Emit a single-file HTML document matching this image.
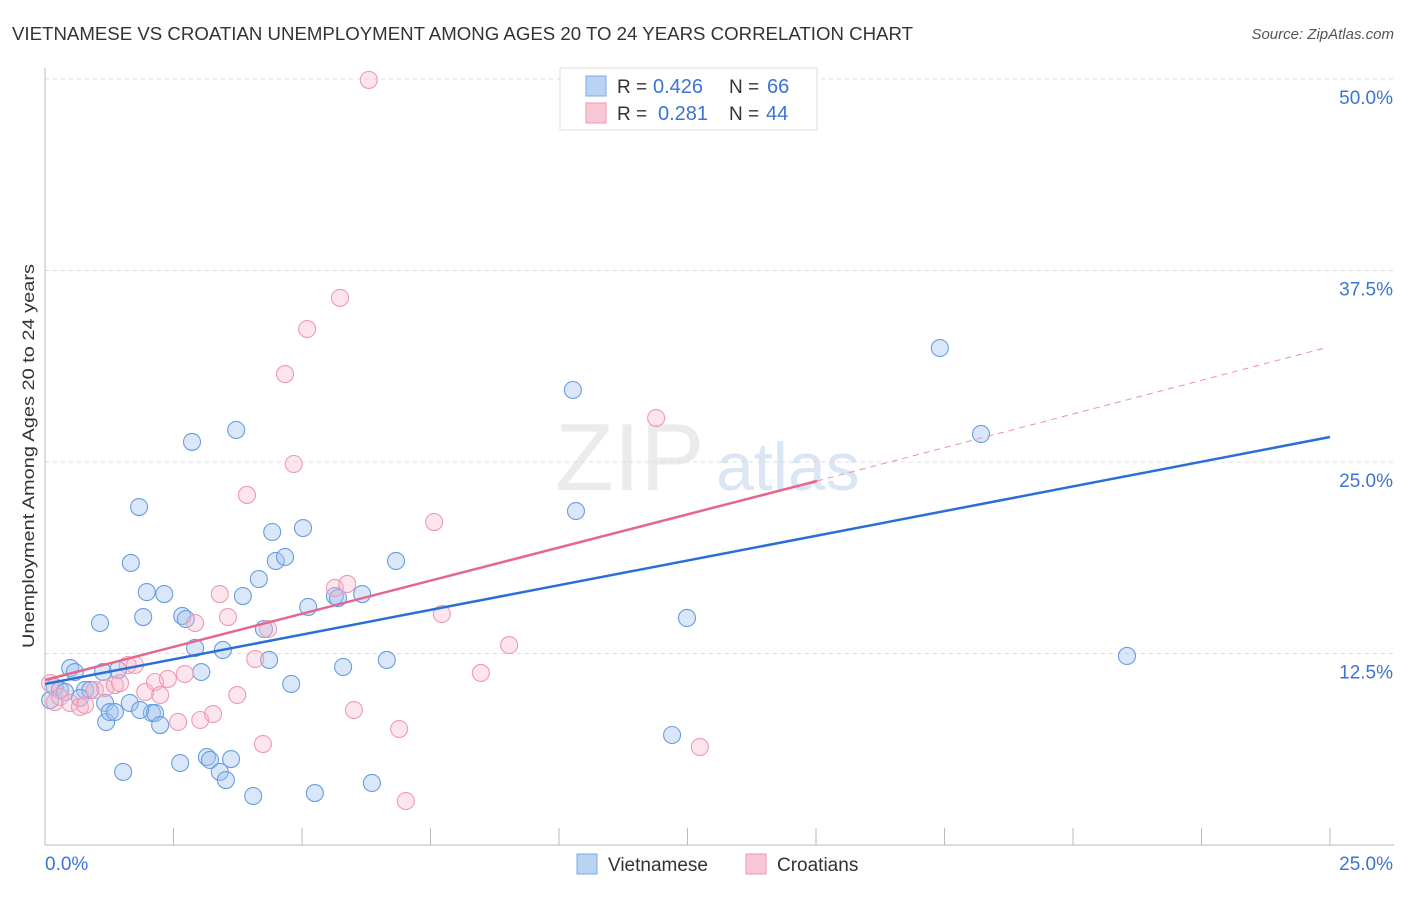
<!DOCTYPE html>
<html><head><meta charset="utf-8"><style>
body{margin:0;background:#fff;font-family:"Liberation Sans",sans-serif;}
svg text{font-family:"Liberation Sans",sans-serif;}
</style></head><body>
<svg id="chart" width="1406" height="892" xmlns="http://www.w3.org/2000/svg">
<text x="12" y="40" font-size="18" fill="#333" textLength="901" lengthAdjust="spacingAndGlyphs">VIETNAMESE VS CROATIAN UNEMPLOYMENT AMONG AGES 20 TO 24 YEARS CORRELATION CHART</text>
<text x="1394" y="39" font-size="15" fill="#555" font-style="italic" text-anchor="end">Source: ZipAtlas.com</text>
<text x="555" y="490" font-size="96" fill="#ebebeb" font-family="Liberation Serif">ZIP</text>
<text x="716" y="490" font-size="68" fill="#dbe6f4">atlas</text>
<text transform="translate(34,456) rotate(-90)" font-size="17" fill="#333" text-anchor="middle" textLength="384" lengthAdjust="spacingAndGlyphs">Unemployment Among Ages 20 to 24 years</text>
<g id="grid"></g><g id="axes"></g><g id="marks"></g>
<g>
<rect x="560" y="68" width="257" height="62" fill="#fff" stroke="#ddd"/>
<rect x="586" y="76" width="20" height="20" fill="#b9d3f5" stroke="#7fa9e6"/>
<rect x="586" y="103" width="20" height="20" fill="#f8c6d4" stroke="#ec9ab3"/>
<text x="617" y="93" font-size="19" fill="#333">R =</text>
<text x="653" y="93" font-size="20" fill="#3b74d4">0.426</text>
<text x="729" y="93" font-size="19" fill="#333">N =</text>
<text x="767" y="93" font-size="20" fill="#3b74d4">66</text>
<text x="617" y="120" font-size="19" fill="#333">R =</text>
<text x="658" y="120" font-size="20" fill="#3b74d4">0.281</text>
<text x="729" y="120" font-size="19" fill="#333">N =</text>
<text x="766" y="120" font-size="20" fill="#3b74d4">44</text>
</g>
<g>
<rect x="577" y="854" width="20" height="20" fill="#b9d3f5" stroke="#7fa9e6"/>
<text x="608" y="871" font-size="19" fill="#333">Vietnamese</text>
<rect x="746" y="854" width="20" height="20" fill="#f8c6d4" stroke="#ec9ab3"/>
<text x="777" y="871" font-size="19" fill="#333">Croatians</text>
</g>
</svg>
<script>
const yTicks=[12.5,25,37.5,50];
const yTickLabels=["12.5%","25.0%","37.5%","50.0%"];
const xEndLabels=["0.0%","25.0%"];
const viX=[.19,.29,.39,.49,.58,.78,.88,1.07,1.13,1.17,1.19,1.26,1.36,1.42,1.52,1.65,1.67,1.83,1.91,1.98,2.08,2.14,2.24,2.32,2.63,2.67,2.74,2.86,2.92,3.04,3.15,3.21,3.40,3.46,3.52,3.62,3.72,3.85,4.05,4.16,4.26,4.36,4.42,4.49,4.67,4.79,5.02,5.12,5.25,5.64,5.70,5.80,6.17,6.36,6.65,6.83,10.27,10.33,12.20,12.49,17.41,18.21,21.05,.10,.68,1.85];
const viY=[10.31,10.12,9.99,11.55,11.29,10.12,10.12,14.49,11.29,9.27,8.03,8.68,8.68,11.42,4.77,9.27,18.41,22.06,14.88,16.51,8.62,8.62,7.83,16.38,5.35,14.95,14.75,26.31,12.86,11.29,5.74,5.55,4.77,12.73,4.24,5.61,27.09,16.25,3.20,17.36,14.10,12.08,20.43,18.54,18.80,10.51,20.69,15.54,3.39,16.25,16.12,11.62,16.38,4.05,12.08,18.54,29.70,21.80,7.18,14.82,32.44,26.83,12.34,9.46,9.60,8.81];
const crX=[.10,.19,.29,.49,.68,.78,.97,1.17,1.36,1.46,1.61,1.75,1.95,2.14,2.24,2.39,2.59,2.72,2.92,3.02,3.27,3.40,3.56,3.74,3.93,4.09,4.24,4.34,4.67,4.84,5.10,5.64,5.74,5.88,6.01,6.30,6.89,7.02,7.57,7.72,8.48,9.03,11.89,12.74];
const crY=[10.57,9.33,9.66,9.27,9.01,9.14,10.12,10.25,10.44,10.57,11.75,11.75,9.99,10.64,9.79,10.84,8.03,11.16,14.49,8.16,8.55,16.38,14.88,9.79,22.85,12.14,6.59,14.10,30.74,24.87,33.68,16.78,35.71,17.04,8.81,49.94,7.57,2.87,21.08,15.08,11.23,13.05,27.87,6.40];
const viTrend=[[0,10.51],[25,26.63]];
const crTrend=[[0,10.77],[15.02,23.76]];
const crTrendExt=[[15.02,23.76],[24.9,32.44]];
const xs=v=>45+v/25*1285, ys=v=>845-v/12.5*191.5;
const NS="http://www.w3.org/2000/svg";
function mk(tag,attrs,parent){const e=document.createElementNS(NS,tag);for(const k in attrs)e.setAttribute(k,attrs[k]);document.getElementById(parent).appendChild(e);return e;}
yTicks.forEach((t,i)=>{
 const g=mk('line',{x1:45,x2:1394,y1:ys(t),y2:ys(t),stroke:'#ddd','stroke-dasharray':'4,4'},'grid');
 
 
 const l=mk('text',{x:1393,y:ys(t)+25,'font-size':19,fill:'#3b74d4','text-anchor':'end'},'grid');l.textContent=yTickLabels[i];
 
 
});
let a=mk('line',{x1:45,x2:45,y1:68,y2:845,stroke:'#bbb'},'axes');


a=mk('line',{x1:45,x2:1394,y1:845,y2:845,stroke:'#bbb'},'axes');


for(let i=1;i<=10;i++){const t=mk('line',{x1:xs(i*2.5),x2:xs(i*2.5),y1:828,y2:845,stroke:'#bbb'},'axes');
 
 }
let xl=mk('text',{x:45,y:870,'font-size':19,fill:'#3b74d4'},'axes');xl.textContent=xEndLabels[0];


xl=mk('text',{x:1393,y:870,'font-size':19,fill:'#3b74d4','text-anchor':'end'},'axes');xl.textContent=xEndLabels[1];


viX.forEach((x,i)=>{const c=mk('circle',{cx:xs(x),cy:ys(viY[i]),r:8.5,fill:'rgba(160,196,240,0.4)',stroke:'#6a9ddf','stroke-width':1.1},'marks');
 
 });
crX.forEach((x,i)=>{const c=mk('circle',{cx:xs(x),cy:ys(crY[i]),r:8.5,fill:'rgba(246,180,200,0.35)',stroke:'#ee9ab4','stroke-width':1.1},'marks');
 
 });
let ln=mk('line',{x1:xs(crTrendExt[0][0]),y1:ys(crTrendExt[0][1]),x2:xs(crTrendExt[1][0]),y2:ys(crTrendExt[1][1]),stroke:'#ec8fac','stroke-dasharray':'6,5','stroke-width':1},'marks');


ln=mk('line',{x1:xs(viTrend[0][0]),y1:ys(viTrend[0][1]),x2:xs(viTrend[1][0]),y2:ys(viTrend[1][1]),stroke:'#2a6fd6','stroke-width':2.5},'marks');


ln=mk('line',{x1:xs(crTrend[0][0]),y1:ys(crTrend[0][1]),x2:xs(crTrend[1][0]),y2:ys(crTrend[1][1]),stroke:'#e5668f','stroke-width':2.5},'marks');


</script>
</body></html>
